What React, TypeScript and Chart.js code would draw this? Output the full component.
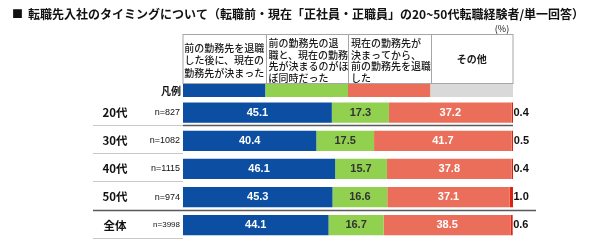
import React, { useEffect, useRef } from "react";
import { Chart, registerables } from "chart.js";

Chart.register(...registerables);

const categories = ["20代", "30代", "40代", "50代", "全体"];
const sampleSizes = ["n=827", "n=1082", "n=1115", "n=974", "n=3998"];

const beforeQuit = [45.1, 40.4, 46.1, 45.3, 44.1];
const sameTime = [17.3, 17.5, 15.7, 16.6, 16.7];
const afterDecided = [37.2, 41.7, 37.8, 37.1, 38.5];
const otherValues = [0.4, 0.5, 0.4, 1.0, 0.6];

const headerLines = [
  ["前の勤務先を退職", "した後に、現在の", "勤務先が決まった"],
  ["前の勤務先の退", "職と、現在の勤務", "先が決まるのがほ", "ぼ同時だった"],
  ["現在の勤務先が", "決まってから、", "前の勤務先を退職", "した"],
  ["その他"],
];

const TITLE = "転職先入社のタイミングについて（転職前・現在「正社員・正職員」の20~50代転職経験者/単一回答）";

const BLUE = "#0b4ea2";
const GREEN = "#92d050";
const SALMON = "#eb6e5b";
const RED = "#dd2210";
const LEGEND_GRAY = "#d9d9d9";

const JP = '"Noto Sans CJK JP", "Noto Sans", sans-serif';
const NUM = '"Liberation Sans", Arial, sans-serif';

const tablePlugin = {
  id: "tableDecor",
  beforeDatasetsDraw(chart: any) {
    const { ctx } = chart;
    const x = chart.scales.x;
    const y = chart.scales.y;
    const cols = [0, 25, 50, 75, 100].map((v) => x.getPixelForValue(v));
    const half = (y.getPixelForValue(1) - y.getPixelForValue(0)) / 2;

    ctx.save();
    // title
    ctx.fillStyle = "#111";
    ctx.textBaseline = "middle";
    ctx.textAlign = "left";
    ctx.font = `11px ${JP}`;
    ctx.fillText("■", 12, 14);
    ctx.font = `bold 12px ${JP}`;
    ctx.fillText(TITLE, 28, 14);

    ctx.font = `9px ${JP}`;
    ctx.textAlign = "center";
    ctx.fillText("(%)", 502, 29);

    // header table
    const top = 34.5;
    const bottom = 83.5;
    ctx.strokeStyle = "#a6a6a6";
    ctx.lineWidth = 1;
    ctx.strokeRect(cols[0], top, cols[4] - cols[0], bottom - top);
    for (let i = 1; i < 4; i++) {
      ctx.beginPath();
      ctx.moveTo(Math.round(cols[i]) + 0.5, top);
      ctx.lineTo(Math.round(cols[i]) + 0.5, bottom);
      ctx.stroke();
    }
    ctx.fillStyle = "#1a1a1a";
    ctx.font = `500 10px ${JP}`;
    headerLines.forEach((lines, i) => {
      ctx.save();
      ctx.beginPath();
      ctx.rect(cols[i], top, cols[i + 1] - cols[i], bottom - top - 0.5);
      ctx.clip();
      if (i === 0) {
        ctx.textAlign = "center";
        const cx = (cols[0] + cols[1]) / 2;
        [48, 60.5, 73].forEach((ly, k) => ctx.fillText(lines[k], cx, ly));
      } else if (i === 3) {
        ctx.textAlign = "center";
        ctx.font = `bold 10px ${JP}`;
        ctx.fillText(lines[0], (cols[3] + cols[4]) / 2, (top + bottom) / 2);
      } else {
        ctx.textAlign = "left";
        [43.5, 55, 66.5, 78.5].forEach((ly, k) => ctx.fillText(lines[k], cols[i] + 3, ly));
      }
      ctx.restore();
    });

    // legend row
    const legendColors = [BLUE, GREEN, SALMON, LEGEND_GRAY];
    legendColors.forEach((c, i) => {
      ctx.fillStyle = c;
      ctx.fillRect(cols[i], 84, cols[i + 1] - cols[i], 13);
    });
    ctx.fillStyle = "#111";
    ctx.textAlign = "right";
    ctx.font = `bold 10px ${JP}`;
    ctx.fillText("凡例", 181, 91);

    // row separators
    categories.forEach((_, i) => {
      const yb = Math.round(y.getPixelForValue(i) + half - 1.5) + 0.5;
      const dark = i === 0 || i === 3;
      ctx.strokeStyle = "#c8c8c8";
      ctx.lineWidth = 1;
      ctx.beginPath();
      ctx.moveTo(93, yb);
      ctx.lineTo(cols[0], yb);
      ctx.stroke();
      if (dark) {
        ctx.strokeStyle = "#5a5a5a";
        ctx.lineWidth = 1.5;
        ctx.beginPath();
        ctx.moveTo(i === 3 ? 93 : cols[0], yb);
        ctx.lineTo(i === 3 ? 536 : cols[4], yb);
        ctx.stroke();
      }
    });

    // row labels
    categories.forEach((c, i) => {
      const cy = y.getPixelForValue(i);
      ctx.fillStyle = "#111";
      ctx.textAlign = "center";
      ctx.font = `bold 11.5px ${JP}`;
      ctx.fillText(c, 115, cy);
      ctx.textAlign = "right";
      ctx.font = `${i === 4 ? 8 : 9}px ${NUM}`;
      ctx.fillText(sampleSizes[i], 180, cy);
    });
    ctx.restore();
  },
  afterDatasetsDraw(chart: any) {
    const { ctx } = chart;
    ctx.save();
    ctx.textBaseline = "middle";
    ctx.font = `bold 11px ${NUM}`;
    chart.data.datasets.forEach((ds: any, di: number) => {
      const meta = chart.getDatasetMeta(di);
      meta.data.forEach((bar: any, i: number) => {
        const v = ds.data[i];
        const text = v.toFixed(1);
        if (di === 3) {
          ctx.fillStyle = "#111";
          ctx.textAlign = "left";
          ctx.fillText(text, bar.x + 0.5, bar.y);
        } else {
          ctx.fillStyle = di === 1 ? "#333" : "#ffffff";
          ctx.textAlign = "center";
          ctx.fillText(text, (bar.base + bar.x) / 2, bar.y);
        }
      });
    });
    ctx.restore();
  },
};

export default function App() {
  const ref = useRef<HTMLCanvasElement | null>(null);

  useEffect(() => {
    if (!ref.current) return;
    const chart = new Chart(ref.current, {
      type: "bar",
      data: {
        labels: categories,
        datasets: [
          { label: "前の勤務先を退職した後に、現在の勤務先が決まった", data: beforeQuit, backgroundColor: BLUE },
          { label: "前の勤務先の退職と、現在の勤務先が決まるのがほぼ同時だった", data: sameTime, backgroundColor: GREEN },
          { label: "現在の勤務先が決まってから、前の勤務先を退職した", data: afterDecided, backgroundColor: SALMON },
          { label: "その他", data: otherValues, backgroundColor: RED },
        ],
      },
      options: {
        indexAxis: "y",
        responsive: false,
        animation: false,
        devicePixelRatio: 1,
        layout: { padding: { left: 183, right: 89, top: 98.6, bottom: 2.8 } },
        datasets: { bar: { categoryPercentage: 1, barPercentage: 0.72 } },
        scales: {
          x: { stacked: true, min: 0, max: 100, display: false },
          y: { stacked: true, display: false },
        },
        plugins: { legend: { display: false }, tooltip: { enabled: false }, title: { display: false } },
      },
      plugins: [tablePlugin],
    });
    return () => chart.destroy();
  }, []);

  return (
    <div style={{ position: "fixed", left: 0, top: 0, width: 602, height: 242, background: "#fff" }}>
      <canvas ref={ref} width={602} height={242} style={{ width: 602, height: 242 }} />
    </div>
  );
}
